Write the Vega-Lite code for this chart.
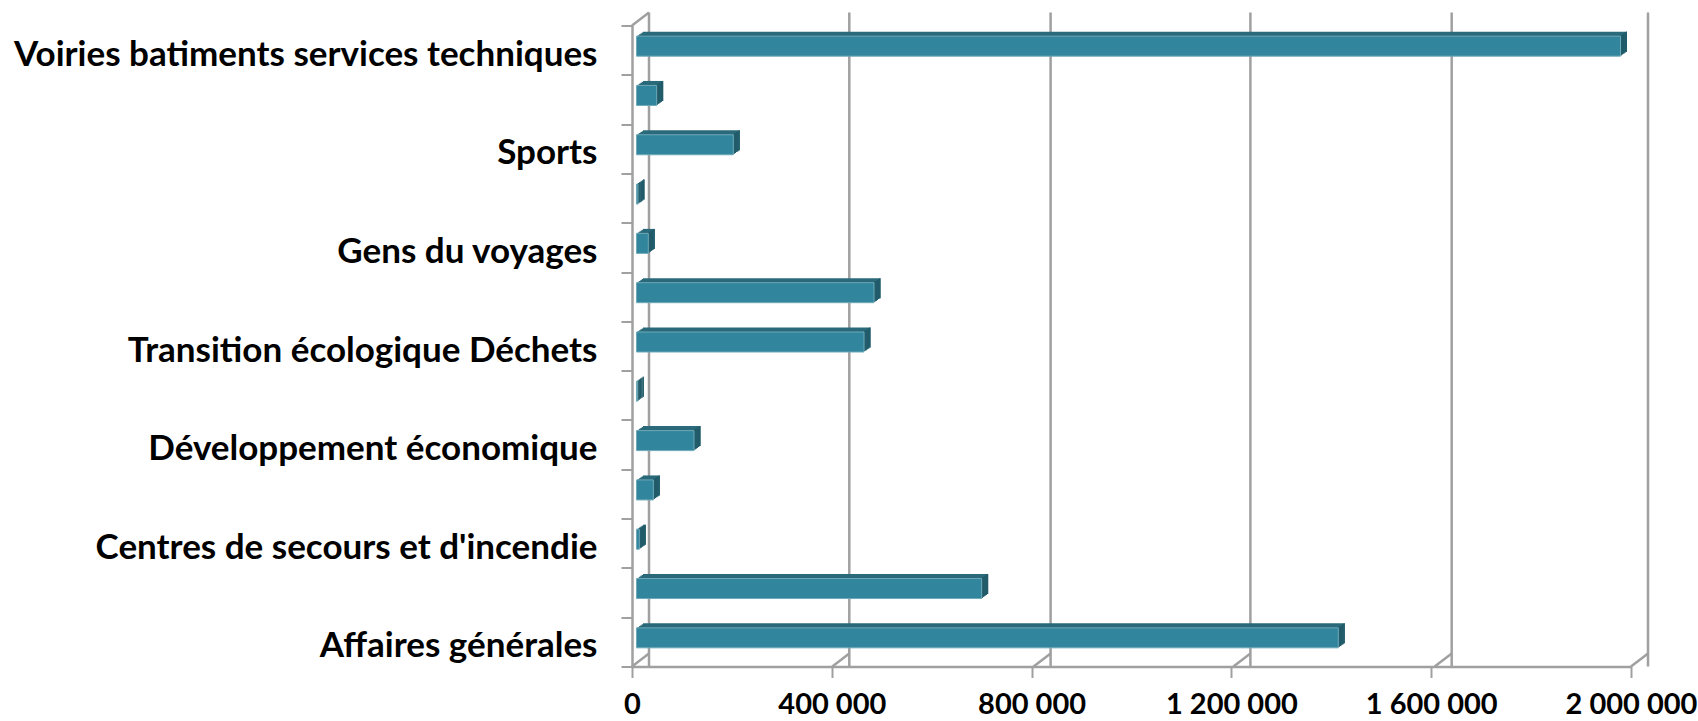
{"$schema":"https://vega.github.io/schema/vega-lite/v6.json","width":999,"height":641,"autosize":{"type":"none"},"padding":{"left":632,"top":25.5,"right":67,"bottom":54.5},"background":"white","config":{"view":{"stroke":null}},
"datasets":{"postes":[
{"poste":"Voiries batiments services techniques","montant":1970000},
{"poste":" ","montant":40400},
{"poste":"Sports","montant":193800},
{"poste":"  ","montant":3000},
{"poste":"Gens du voyages","montant":23600},
{"poste":"   ","montant":475500},
{"poste":"Transition écologique Déchets","montant":455500},
{"poste":"    ","montant":1600},
{"poste":"Développement économique","montant":115100},
{"poste":"     ","montant":33700},
{"poste":"Centres de secours et d'incendie","montant":5600},
{"poste":"      ","montant":691000},
{"poste":"Affaires générales","montant":1405000}],
"reperes":[{"g":0},{"g":401000},{"g":804000},{"g":1204000},{"g":1607000},{"g":2000000}]},
"encoding":{"y":{"field":"poste","type":"nominal","sort":null,"scale":{"domain":["Voiries batiments services techniques"," ","Sports","  ","Gens du voyages","   ","Transition écologique Déchets","    ","Développement économique","     ","Centres de secours et d'incendie","      ","Affaires générales"],"paddingInner":0,"paddingOuter":0},"title":null,
"axis":{"domain":true,"domainColor":"#a0a0a0","domainWidth":2.5,"ticks":true,"tickColor":"#a0a0a0","tickWidth":2,"tickSize":11,"tickBand":"extent","tickExtra":true,"labelFont":"Lato","labelFontWeight":"bold","labelFontSize":35,"labelColor":"#000000","labelPadding":24,"labelOffset":4,"labelLimit":640,"labelOverlap":false,"grid":false}}},
"layer":[
{"data":{"name":"reperes"},"mark":{"type":"rule","xOffset":17,"yOffset":-13,"y2Offset":-13,"color":"#a0a0a0","strokeWidth":2.5},"encoding":{"y":null,"x":{"field":"g","type":"quantitative","scale":{"domain":[0,2000000],"nice":false},"title":null,"axis":{"values":[0,400000,800000,1200000,1600000,2000000],"domain":true,"domainColor":"#a0a0a0","domainWidth":2.5,"tickColor":"#a0a0a0","tickWidth":2,"tickSize":11,"labelFont":"Lato","labelFontWeight":"bold","labelFontSize":29,"labelColor":"#000000","labelBaseline":"alphabetic","labelPadding":36,"labelOverlap":false,"labelFlush":false,"grid":false,"labelExpr":"replace(format(datum.value,','),/,/g,' ')"}}}},
{"data":{"name":"reperes"},"mark":{"type":"point","shape":"M0 0L1 -0.765","size":1156,"filled":false,"stroke":"#a0a0a0","strokeWidth":2.5,"opacity":1},"encoding":{"x":{"field":"g","type":"quantitative"},"y":{"datum":"Affaires générales","bandPosition":1}}},
{"data":{"values":[{"g":0}]},"mark":{"type":"point","shape":"M0 0L1 -0.765","size":1156,"filled":false,"stroke":"#a0a0a0","strokeWidth":2.5,"opacity":1},"encoding":{"x":{"field":"g","type":"quantitative"},"y":{"datum":"Voiries batiments services techniques","bandPosition":0}}},
{"data":{"name":"postes"},"layer":[
{"mark":{"type":"bar","size":20,"color":"#2a6a7a","xOffset":11,"x2Offset":11,"yOffset":-8.5,"y2Offset":-8.5},"encoding":{"x":{"field":"montant","type":"quantitative"},"x2":{"datum":0}}},
{"mark":{"type":"bar","size":20,"color":"#2a6a7a","xOffset":9.7,"x2Offset":9.7,"yOffset":-7.6,"y2Offset":-7.6},"encoding":{"x":{"field":"montant","type":"quantitative"},"x2":{"datum":0}}},
{"mark":{"type":"bar","size":20,"color":"#2a6a7a","xOffset":8.4,"x2Offset":8.4,"yOffset":-6.7,"y2Offset":-6.7},"encoding":{"x":{"field":"montant","type":"quantitative"},"x2":{"datum":0}}},
{"mark":{"type":"bar","size":20,"color":"#2a6a7a","xOffset":7.1,"x2Offset":7.1,"yOffset":-5.8,"y2Offset":-5.8},"encoding":{"x":{"field":"montant","type":"quantitative"},"x2":{"datum":0}}},
{"mark":{"type":"bar","size":20,"color":"#2a6a7a","xOffset":5.8,"x2Offset":5.8,"yOffset":-4.9,"y2Offset":-4.9},"encoding":{"x":{"field":"montant","type":"quantitative"},"x2":{"datum":0}}},
{"mark":{"type":"bar","size":20,"color":"#215a69","xOffset":9.7,"x2Offset":11,"yOffset":-8.5,"y2Offset":-8.5},"encoding":{"x":{"field":"montant","type":"quantitative"},"x2":{"field":"montant"}}},
{"mark":{"type":"bar","size":20,"color":"#215a69","xOffset":8.4,"x2Offset":9.7,"yOffset":-7.6,"y2Offset":-7.6},"encoding":{"x":{"field":"montant","type":"quantitative"},"x2":{"field":"montant"}}},
{"mark":{"type":"bar","size":20,"color":"#215a69","xOffset":7.1,"x2Offset":8.4,"yOffset":-6.7,"y2Offset":-6.7},"encoding":{"x":{"field":"montant","type":"quantitative"},"x2":{"field":"montant"}}},
{"mark":{"type":"bar","size":20,"color":"#215a69","xOffset":5.8,"x2Offset":7.1,"yOffset":-5.8,"y2Offset":-5.8},"encoding":{"x":{"field":"montant","type":"quantitative"},"x2":{"field":"montant"}}},
{"mark":{"type":"bar","size":20,"color":"#215a69","xOffset":4.5,"x2Offset":5.8,"yOffset":-4.9,"y2Offset":-4.9},"encoding":{"x":{"field":"montant","type":"quantitative"},"x2":{"field":"montant"}}},
{"mark":{"type":"bar","size":20,"color":"#31859c","stroke":"#6fa9b8","strokeWidth":1,"xOffset":4.5,"x2Offset":4.5,"yOffset":-4,"y2Offset":-4},"encoding":{"x":{"field":"montant","type":"quantitative"},"x2":{"datum":0}}}
]}
]}
